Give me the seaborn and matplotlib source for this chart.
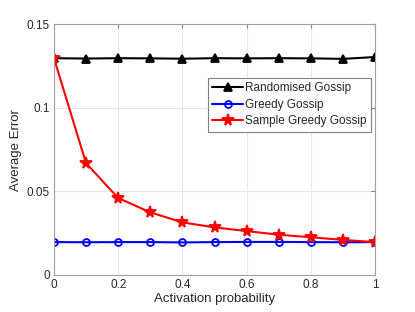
import numpy as np
import pandas as pd
import seaborn as sns
import matplotlib
matplotlib.use("Agg")
import matplotlib.pyplot as plt

# データ
p_values = [0.0, 0.1, 0.2, 0.3, 0.4, 0.5, 0.6, 0.7, 0.8, 0.9, 1.0]
randomised = [0.1298, 0.1296, 0.1298, 0.1297, 0.1295, 0.1298, 0.1297, 0.1298, 0.1297, 0.1294, 0.1305]
greedy = [0.0197, 0.0196, 0.0197, 0.0197, 0.0195, 0.0197, 0.0198, 0.0198, 0.0197, 0.0196, 0.0197]
sample_greedy = [0.1298, 0.0669, 0.0461, 0.0375, 0.0315, 0.0285, 0.0263, 0.0241, 0.0226, 0.0210, 0.0197]

series = ["Randomised Gossip", "Greedy Gossip", "Sample Greedy Gossip"]
colors = ["black", "blue", "red"]
markers = ["^", "o", "*"]
msizes = [5.5, 5, 8.5]

sns.set_style("white")
plt.rcParams['font.family'] = ['Liberation Sans', 'DejaVu Sans']

fig = plt.figure(figsize=(4.15, 3.12), dpi=100)
ax = fig.add_axes([0.130, 0.1186, 0.774, 0.803])

for name, vals, c, m, ms in zip(series, [randomised, greedy, sample_greedy], colors, markers, msizes):
    df = pd.DataFrame({"p": p_values, "err": vals})
    sns.lineplot(data=df, x="p", y="err", ax=ax, color=c, marker=m, markersize=ms,
                 linewidth=1.5, markeredgecolor=c,
                 markerfacecolor=c if m != "o" else "none",
                 markeredgewidth=1.3, label=name)

ax.set_xlim(0, 1)
ax.set_ylim(0, 0.15)
ax.set_xticks(np.arange(0, 1.01, 0.2))
ax.set_xticklabels(["0", "0.2", "0.4", "0.6", "0.8", "1"])
ax.set_yticks([0, 0.05, 0.1, 0.15])
ax.set_yticklabels(["0", "0.05", "0.1", "0.15"])
ax.grid(True, color="#e6e6e6", linewidth=0.8)
ax.set_axisbelow(True)
for s in ax.spines.values():
    s.set_color("#a0a0a0")
    s.set_linewidth(0.8)
ax.tick_params(direction="in", length=3, color="#808080", labelsize=8.5,
               labelcolor="#262626", top=True, right=True, pad=3)
ax.set_xlabel("Activation probability", fontsize=9.5, color="#262626", labelpad=1)
ax.set_ylabel("Average Error", fontsize=9.5, color="#262626", labelpad=3)

leg = ax.legend(loc="upper left", bbox_to_anchor=(0.48, 0.787), fontsize=8.5,
                frameon=True, fancybox=False, framealpha=1, edgecolor="#808080",
                handlelength=2.6, handletextpad=0.2, borderpad=0.35, labelspacing=0.4,
                borderaxespad=0)
leg.get_frame().set_linewidth(0.8)

fig.savefig("out.png", dpi=100)
